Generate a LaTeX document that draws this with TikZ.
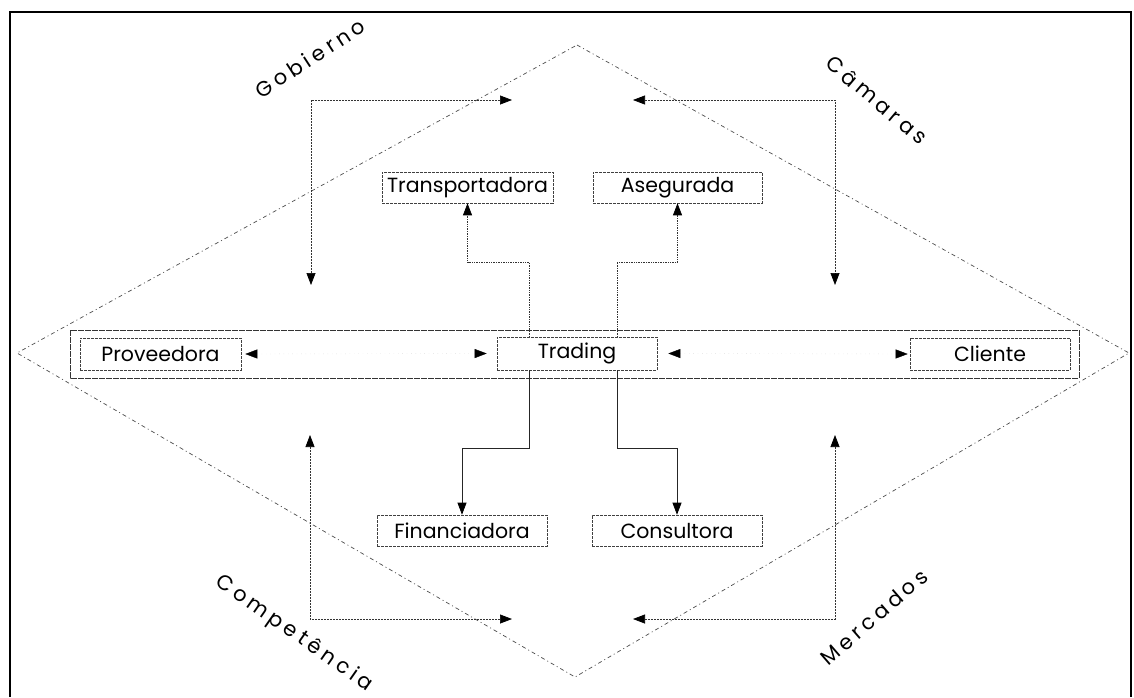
\documentclass[tikz,border=0pt]{standalone}
\usepackage{fontspec}
\setmainfont{Poppins}
\usetikzlibrary{arrows.meta}

% letter spacing for the rotated environment labels
\newcommand{\lsp}{\kern0.2em}

\tikzset{
  box/.style={draw=black!75, line width=0.6pt, dash pattern=on 3pt off 1pt,
    inner sep=0pt, font=\fontsize{20.5}{24}\selectfont},
  conn/.style={black!80, line width=0.7pt, densely dotted},
  connsolid/.style={black!85, line width=0.7pt},
  tip/.style={-{Triangle[length=12pt,width=9pt,color=black]}},
  dtip/.style={{Triangle[length=12pt,width=9pt,color=black]}-{Triangle[length=12pt,width=9pt,color=black]}},
  corner/.style={black!80, line width=0.7pt, dash pattern=on 2pt off 1pt},
  faint/.style={black!20, line width=0.4pt, loosely dotted},
  diam/.style={black!70, line width=0.7pt, dash pattern=on 4pt off 3pt on 1pt off 3pt},
  band/.style={black!80, line width=0.8pt, dash pattern=on 6pt off 1pt},
  envlabel/.style={font=\fontsize{21}{24}\selectfont, inner sep=0pt}
}

\begin{document}
\begin{tikzpicture}[x=1pt, y=-1pt]
\useasboundingbox (0,0) rectangle (1134,697);

% outer frame
\draw[line width=1.4pt] (10,697) -- (10,12) -- (1131,12) -- (1131,697);

% environment diamond
\coordinate (dT) at (577,45);
\coordinate (dR) at (1129,353);
\coordinate (dB) at (575,677);
\coordinate (dL) at (17,353);
\draw[diam] (dT) -- (dR) -- (dB) -- (dL) -- cycle;

% chain band
\draw[band] (70,330) rectangle (1079,378);

% nodes
\node[box, minimum width=161pt, minimum height=32pt] (prov) at (160.5,354) {Proveedora};
\node[box, minimum width=160pt, minimum height=33pt] (trad) at (577,353.5) {Trading};
\node[box, minimum width=160pt, minimum height=32pt] (cli) at (990,354) {Cliente};
\node[box, minimum width=171pt, minimum height=31pt] (trans) at (467.5,187.5) {Transportadora};
\node[box, minimum width=169pt, minimum height=31pt] (aseg) at (677.5,187.5) {Asegurada};
\node[box, minimum width=170pt, minimum height=31pt] (fin) at (462,530.5) {Financiadora};
\node[box, minimum width=170pt, minimum height=31pt] (cons) at (677,530.5) {Consultora};

% flows along the chain
\draw[faint, dtip] ([xshift=4pt]prov.east) -- ([xshift=-10pt]trad.west);
\draw[faint, dtip] ([xshift=11pt]trad.east) -- ([xshift=-2pt]cli.west);

% service links from Trading
\coordinate (upmid) at (0,262);
\coordinate (lowmid) at (0,448);
\coordinate (tl) at ([xshift=-48pt]trad.north);
\coordinate (tr) at ([xshift=40pt]trad.north);
\coordinate (bl) at ([xshift=-48pt]trad.south);
\coordinate (br) at ([xshift=40pt]trad.south);
\draw[conn, tip] (tl) -- (tl |- upmid) -- (trans.south |- upmid) -- (trans.south);
\draw[conn, tip] (tr) -- (tr |- upmid) -- (aseg.south |- upmid) -- (aseg.south);
\draw[connsolid, tip] (bl) -- (bl |- lowmid) -- (fin.north |- lowmid) -- (fin.north);
\draw[connsolid, tip] (br) -- (br |- lowmid) -- (cons.north |- lowmid) -- (cons.north);

% corner arrows
\coordinate (c1) at (311,100);
\coordinate (c1a) at (512,100);
\coordinate (c1b) at (311,285);
\coordinate (c2) at (835,100);
\coordinate (c2a) at (633,100);
\coordinate (c2b) at (835,285);
\coordinate (c3) at (310,619);
\coordinate (c3a) at (512,619);
\coordinate (c3b) at (310,435);
\coordinate (c4) at (835,619);
\coordinate (c4a) at (633,619);
\coordinate (c4b) at (835,435);
\draw[corner, dtip] (c1a) -- (c1) -- (c1b);
\draw[corner, dtip] (c2a) -- (c2) -- (c2b);
\draw[corner, dtip] (c3a) -- (c3) -- (c3b);
\draw[corner, dtip] (c4a) -- (c4) -- (c4b);

% environment labels
\node[envlabel, rotate=33] (gob) at (310,58) {G\lsp o\lsp b\lsp i\lsp e\lsp r\lsp n\lsp o};
\node[envlabel, rotate=-40] (cam) at (877,100) {C\lsp â\lsp m\lsp a\lsp r\lsp a\lsp s};
\node[envlabel, rotate=-35] (comp) at (294,634) {C\lsp o\lsp m\lsp p\lsp e\lsp t\lsp ê\lsp n\lsp c\lsp i\lsp a};
\node[envlabel, rotate=41] (merc) at (874,617) {M\lsp e\lsp r\lsp c\lsp a\lsp d\lsp o\lsp s};
\end{tikzpicture}
\end{document}
